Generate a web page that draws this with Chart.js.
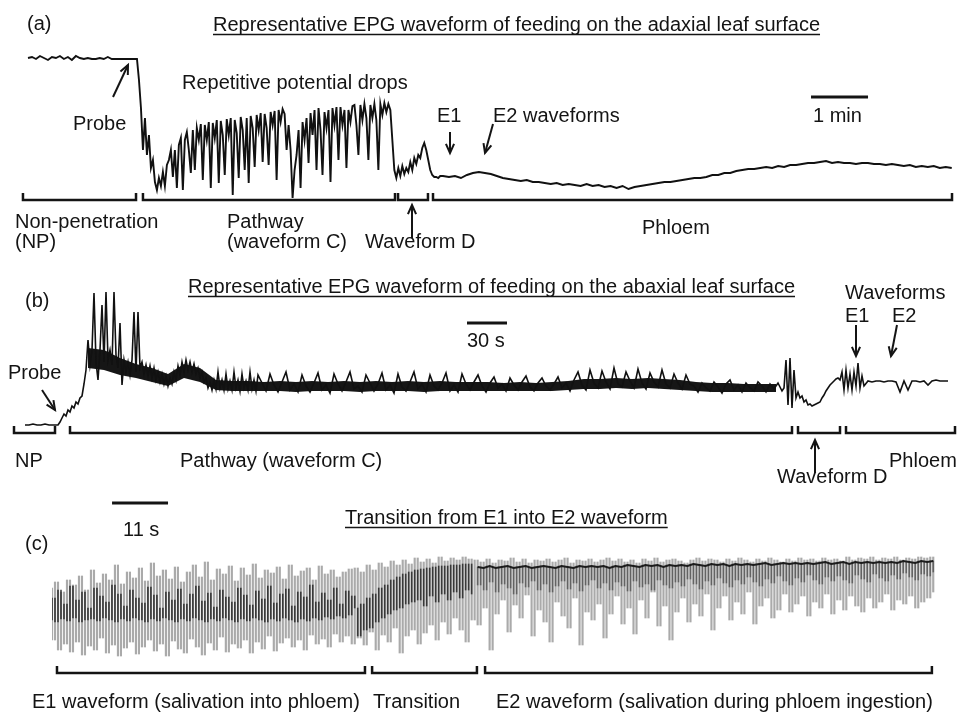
<!DOCTYPE html>
<html>
<head>
<meta charset="utf-8">
<script src="https://cdn.jsdelivr.net/npm/chart.js@4.4.1/dist/chart.umd.min.js"></script>
<style>
  html, body { margin: 0; padding: 0; background: #fff; }
  #wrap { position: relative; width: 959px; height: 713px; }
  canvas { position: absolute; left: 0; top: 0; }
</style>
</head>
<body>
<div id="wrap">
  <canvas id="panelA" width="959" height="713"></canvas>
  <canvas id="panelB" width="959" height="713"></canvas>
  <canvas id="panelC" width="959" height="713"></canvas>
</div>
<script>
// ---- (a) adaxial surface, time in s, signal in relative units ----
const A_NP = [142, 143, 141, 144, 142, 140, 143, 142, 144, 141, 143, 140, 144, 142,
  141, 142, 141, 141, 142, 141, 143, 141, 141, 141, 141, 141, 141, 141];
const A_PATH = [
  141, 120, 92, 50, 82, 45, 65, 32, 40, 18,
  10, 22, 14, 28, 14, 35, 40, 50, 23, 50,
  12, 55, 62, 10, 60, 68, 50, 27, 70, 30,
  72, 60, 76, 20, 75, 60, 78, 12, 77, 62,
  80, 17, 79, 65, 25, 81, 65, 82, 5, 80,
  67, 22, 83, 70, 30, 82, 17, 84, 72, 33,
  85, 70, 87, 38, 86, 72, 35, 88, 75, 89,
  20, 90, 78, 91, 86, 50, 75, 50, 2, 30,
  45, 70, 12, 78, 60, 82, 37, 87, 65, 90,
  30, 92, 70, 25, 88, 72, 90, 18, 92, 75,
  93, 40, 93, 75, 90, 32, 90, 78, 94, 95,
  75, 45, 95, 80, 96, 82, 40, 95, 82, 96,
  80, 30, 96, 85, 97, 88, 96, 90, 60, 30,
  22, 32, 24, 34, 26, 32, 28, 38, 30, 42,
  36, 45, 42, 52, 57, 50, 40, 30, 25, 23,
  23, 22, 24];
const A_PHLOEM = [
  24, 23, 24, 22, 25, 27, 28, 27, 26, 24,
  22, 21, 20, 19, 20, 18, 18, 17, 16, 17,
  15, 16, 15, 14, 16, 14, 15, 13, 14, 12,
  14, 11, 13, 14, 15, 16, 17, 18, 18, 19,
  20, 21, 22, 22, 23, 25, 25, 27, 27, 29,
  30, 31, 31, 32, 33, 32, 34, 33, 35, 35,
  36, 37, 37, 38, 39, 37, 38, 37, 37, 36,
  37, 37, 36, 36, 35, 36, 35, 34, 35, 33,
  34, 33, 34, 32, 33, 32];

// ---- (b) abaxial surface ----
const B_NP = [5, 5, 6, 5, 5, 6, 5, 5, 5];
const B_RISE = [
  5, 8, 12, 16, 14, 20, 18, 24, 22, 28,
  26, 32, 34, 46, 60, 90, 65, 80, 137, 68,
  50, 80, 125, 68, 138, 70, 80, 65, 138, 75,
  62, 107, 45, 70, 58, 68, 55, 70, 118, 58,
  118, 62, 68, 56, 65, 54, 64, 52, 62, 50,
  58, 48, 56, 46, 54, 44, 52, 46, 58, 50,
  64, 55, 68, 58, 70, 60, 68, 58, 66, 56,
  62, 52, 58, 48, 52, 42, 48, 40, 50, 41,
  58, 42, 50, 40, 56, 41, 49, 40, 58, 42,
  50, 39, 56, 42, 49, 40, 58, 41, 50, 39,
  55];
const B_PATH = [
  47, 39, 56, 45, 38, 48, 58, 40, 46, 38,
  55, 44, 38, 47, 57, 40, 45, 37, 56, 46,
  39, 48, 58, 41, 44, 38, 55, 47, 39, 46,
  57, 40, 45, 37, 56, 43, 39, 48, 58, 41,
  46, 38, 55, 44, 40, 47, 57, 39, 45, 38,
  56, 46, 40, 48, 55,
  44, 38, 47, 53, 42, 46, 39, 52, 45, 40,
  48, 54, 43, 39, 47, 52, 44, 40, 46, 53,
  42, 47, 39,
  50, 58, 45, 40, 60, 47, 42, 59, 48, 41,
  62, 46, 43, 58, 49, 42, 61, 47, 41, 57,
  48, 43, 60, 46, 42, 56, 47, 41, 55, 46,
  44, 38, 47, 42, 39, 48, 43, 37, 46, 50,
  40, 45, 38, 47, 42, 39, 48, 44, 38, 46,
  41, 47, 39];
const B_D = [
  42, 70, 25, 72, 22, 60, 32, 38, 32, 34,
  28, 30, 25, 26, 24, 25, 26, 27, 28, 32,
  35, 39, 42, 45, 47, 49, 51, 52, 50, 58,
  40, 60, 42, 56, 40, 58, 44, 67, 42, 54,
  44];
const B_PHLOEM = [49, 48, 49, 49, 48, 49, 49, 48, 38, 49, 40,
  49, 49, 48, 49, 45, 49, 50, 49, 49, 49];
// thick noisy band of the pathway phase (upper / lower edge)
const B_BAND_HI = [
  82, 80, 72, 66, 62, 56, 66, 62, 50, 49, 49, 48, 49, 48, 49,
  48, 49, 48, 49, 48, 49, 48, 49, 48, 48, 48, 47, 48, 47, 48,
  49, 51, 51, 52, 51, 52, 51, 50, 48, 47, 47, 46, 46, 46];
const B_BAND_LO = [
  62, 60, 55, 52, 48, 44, 52, 48, 40, 39, 39, 39, 39, 38, 39,
  39, 39, 38, 39, 39, 39, 38, 39, 39, 39, 39, 39, 39, 39, 39,
  40, 41, 41, 42, 41, 42, 41, 40, 39, 38, 38, 38, 38, 38];

// ---- (c) E1 -> E2, light strokes and dark core, alternating high/low ----
const C_E1_GREY = [
  92, 40, 98, 30, 88, 36, 100, 28, 95, 38, 104, 25, 90, 34, 110, 30, 97, 42, 106, 27,
  100, 35, 115, 24, 96, 32, 108, 38, 102, 26, 112, 33, 99, 40, 117, 29, 104, 36, 110, 24,
  101, 39, 113, 31, 98, 27, 108, 41, 115, 33, 103, 25, 118, 37, 100, 30, 111, 43, 106, 28,
  114, 36, 99, 32, 112, 40, 105, 27, 116, 38, 102, 31, 110, 44, 107, 29, 113, 37, 101, 42,
  115, 33, 104, 40, 109, 30, 112, 45, 100, 36, 114, 41, 106, 33, 110, 46, 103, 38, 108, 44,
  111, 36];
const C_TR_GREY = [
  112, 42, 108, 35, 115, 48, 110, 30, 117, 45, 113, 38, 119, 52, 115, 27, 120, 44, 116, 50,
  122, 36, 118, 47, 121, 55, 117, 40, 123, 58, 119, 46, 122, 62, 120, 50, 123, 38, 121, 60];
const C_E2_GREY = [
  120, 55, 118, 72, 121, 30, 117, 66, 120, 80, 119, 48, 122, 75, 118, 62, 121, 85, 117, 44,
  120, 70, 119, 58, 121, 38, 118, 78, 120, 64, 122, 52, 117, 82, 120, 35, 119, 68, 121, 60,
  118, 76, 120, 42, 122, 66, 119, 84, 121, 56, 118, 72, 120, 46, 117, 80, 121, 62, 119, 88,
  122, 54, 118, 74, 120, 40, 121, 68, 119, 82, 117, 58, 120, 76, 122, 64, 119, 86, 121, 50,
  120, 72, 118, 84, 121, 60, 119, 78, 122, 66, 120, 88, 118, 56, 121, 74, 119, 82, 122, 62,
  120, 70, 118, 86, 121, 68, 119, 76, 122, 84, 120, 64, 121, 78, 119, 72, 122, 86, 120, 66,
  121, 80, 119, 70, 123, 84, 120, 74, 122, 68, 121, 82, 123, 72, 120, 78, 122, 86, 121, 70,
  123, 80, 120, 76, 122, 84, 121, 72, 123, 78, 122, 82, 123, 88];
const C_E1_DARK = [
  60, 82, 58, 90, 61, 76, 59, 94, 62, 80, 58, 88, 60, 72, 61, 92, 59, 84, 62, 78,
  60, 95, 58, 86, 61, 74, 59, 90, 62, 82, 60, 77, 58, 93, 61, 85, 59, 72, 62, 88,
  60, 80, 58, 91, 61, 76, 59, 86, 62, 94, 60, 79, 58, 87, 61, 73, 59, 90, 62, 83,
  60, 78, 58, 92, 61, 85, 59, 75, 62, 89, 60, 81, 58, 94, 61, 77, 59, 86, 62, 91,
  60, 74, 58, 88, 61, 83, 59, 95, 62, 78, 60, 87, 63, 80, 61, 92, 64, 76, 62, 89,
  65, 84];
const C_TR_DARK = [
  72, 44, 76, 50, 82, 52, 86, 58, 92, 62, 95, 66, 100, 70, 103, 72, 106, 76, 108, 78,
  110, 80, 111, 74, 112, 84, 113, 78, 114, 86, 114, 80, 115, 88, 115, 82, 116, 90, 116, 86];
const C_E2_DARK = [
  113, 95, 112, 90, 114, 98, 112, 88, 113, 96, 114, 92, 112, 86, 113, 97, 114, 93, 112, 99,
  113, 90, 114, 96, 113, 88, 112, 94, 114, 99, 113, 91, 112, 97, 114, 89, 113, 95, 114, 100,
  113, 92, 114, 97, 112, 90, 114, 98, 113, 94, 115, 89, 114, 99, 113, 93, 115, 96, 114, 90,
  115, 100, 113, 95, 115, 92, 114, 98, 115, 94, 114, 101, 116, 96, 115, 91, 114, 99, 116, 95,
  115, 102, 116, 97, 114, 93, 116, 100, 115, 96, 116, 103, 115, 98, 116, 94, 117, 101, 115, 97,
  116, 104, 117, 99, 116, 95, 117, 102, 116, 98, 117, 105, 116, 100, 117, 96, 118, 103, 116, 99,
  117, 104, 118, 100, 116, 97, 118, 105, 117, 101, 118, 98, 117, 106, 118, 102, 117, 99, 118, 105,
  117, 101, 119, 107, 118, 103, 117, 100, 119, 106, 118, 104, 119, 108];

const FONT = '20px "Liberation Sans", Arial, Helvetica, sans-serif';
const INK = '#141414';

// samples on a regular time grid starting at t0
function series(t0, dt, vals) {
  return vals.map((v, i) => ({ x: +(t0 + i * dt).toFixed(3), y: v }));
}

// vertical swing from each sample to the next one, drawn as a floating bar
function strokes(t0, dt, vals) {
  return vals.slice(0, -1).map((v, i) => ({
    x: +(t0 + i * dt).toFixed(3),
    y: [Math.min(v, vals[i + 1]), Math.max(v, vals[i + 1])]
  }));
}

function arrow(ctx, x1, y1, x2, y2) {
  const a = Math.atan2(y2 - y1, x2 - x1), L = 10, w = 0.42;
  ctx.beginPath(); ctx.moveTo(x1, y1); ctx.lineTo(x2, y2); ctx.stroke();
  ctx.beginPath();
  ctx.moveTo(x2 - L * Math.cos(a - w), y2 - L * Math.sin(a - w));
  ctx.lineTo(x2, y2);
  ctx.lineTo(x2 - L * Math.cos(a + w), y2 - L * Math.sin(a + w));
  ctx.stroke();
}

// brackets, scale bar, labels and arrows for one panel
function decor(cfg) {
  return {
    id: 'decor',
    afterDraw(chart) {
      const { ctx, scales: { x, y } } = chart;
      ctx.save();
      ctx.strokeStyle = INK;
      ctx.fillStyle = INK;

      ctx.lineWidth = 2.5;
      const by = y.getPixelForValue(cfg.bracketY);
      cfg.brackets.forEach(([a, b]) => {
        const x1 = x.getPixelForValue(a), x2 = x.getPixelForValue(b);
        ctx.beginPath();
        ctx.moveTo(x1, by - 7); ctx.lineTo(x1, by); ctx.lineTo(x2, by); ctx.lineTo(x2, by - 7);
        ctx.stroke();
      });

      ctx.lineWidth = 3;
      const [b1, b2, bv] = cfg.bar;
      ctx.beginPath();
      ctx.moveTo(x.getPixelForValue(b1), y.getPixelForValue(bv));
      ctx.lineTo(x.getPixelForValue(b2), y.getPixelForValue(bv));
      ctx.stroke();

      ctx.font = FONT;
      ctx.textBaseline = 'alphabetic';
      cfg.texts.forEach(([s, tx, ty]) => ctx.fillText(s, tx, ty));

      const [ts, tx, ty] = cfg.title;
      ctx.fillText(ts, tx, ty);
      ctx.lineWidth = 1.5;
      ctx.beginPath();
      ctx.moveTo(tx, ty + 3.5);
      ctx.lineTo(tx + ctx.measureText(ts).width, ty + 3.5);
      ctx.stroke();

      ctx.lineWidth = 2;
      cfg.arrows.forEach(a => arrow(ctx, ...a));
      ctx.restore();
    }
  };
}

function makePanel(id, datasets, xMax, yMax, pad, cfg) {
  return new Chart(document.getElementById(id), {
    type: 'line',
    data: { datasets },
    options: {
      responsive: false,
      animation: false,
      events: [],
      layout: { padding: pad },
      scales: {
        x: { type: 'linear', display: false, offset: false, min: 0, max: xMax },
        y: { display: false, min: 0, max: yMax }
      },
      plugins: { legend: { display: false }, tooltip: { enabled: false } },
      elements: { point: { radius: 0 }, line: { tension: 0 } }
    },
    plugins: [decor(cfg)]
  });
}

// upper edge filled down to the lower edge that follows it
function band(hi, lo, t0, dt) {
  return [
    { data: series(t0, dt, hi), borderWidth: 0, borderColor: 'transparent',
      backgroundColor: '#161616', fill: '+1', clip: false },
    { data: series(t0, dt, lo), borderWidth: 0, borderColor: 'transparent', fill: false, clip: false }
  ];
}

const traceA = [].concat(
  series(0, 4.2, A_NP),
  series(114.7, 2.1, A_PATH),
  series(436.8, 6.3, A_PHLOEM)
);
makePanel('panelA', [
  { data: traceA, borderColor: '#111', borderWidth: 1.9, clip: false }
], 976.8, 150, { left: 28, right: 3, top: 50, bottom: 513 }, {
  bracketY: 0,
  brackets: [[-5.3, 113.7], [121, 386.3], [389.5, 421], [426.3, 972.6]],
  bar: [824.2, 884.2, 103],
  title: ['Representative EPG waveform of feeding on the adaxial leaf surface', 213, 31],
  texts: [
    ['(a)', 27, 30], ['Probe', 73, 130], ['Repetitive potential drops', 182, 89],
    ['E1', 437, 122], ['E2 waveforms', 493, 122], ['1 min', 813, 122],
    ['Non-penetration', 15, 228], ['(NP)', 15, 248], ['Pathway', 227, 228],
    ['(waveform C)', 227, 248], ['Waveform D', 365, 248], ['Phloem', 642, 234]
  ],
  arrows: [[113, 97, 128, 65], [450, 132, 450, 153], [493, 124, 485, 153], [412, 238, 412, 205]]
});

const traceB = [].concat(
  series(0, 3, B_NP),
  series(24.75, 1.5, B_RISE),
  series(177.75, 3, B_PATH),
  series(569.25, 1.5, B_D),
  series(632.25, 3, B_PHLOEM)
);
makePanel('panelB', [
  { data: traceB, borderColor: '#111', borderWidth: 1.6, clip: false },
  ...band(B_BAND_HI, B_BAND_LO, 47.25, 12)
], 697.5, 150, { left: 25, right: 4, top: 280, bottom: 283 }, {
  bracketY: -3,
  brackets: [[-8.25, 22.5], [33.75, 575.25], [579.75, 611.25], [615.75, 697.5]],
  bar: [331.5, 361.5, 107],
  title: ['Representative EPG waveform of feeding on the abaxial leaf surface', 188, 293],
  texts: [
    ['(b)', 25, 307], ['Probe', 8, 379], ['30 s', 467, 347],
    ['Waveforms', 845, 299], ['E1', 845, 322], ['E2', 892, 322],
    ['NP', 15, 467], ['Pathway (waveform C)', 180, 467],
    ['Waveform D', 777, 483], ['Phloem', 889, 467]
  ],
  arrows: [[42, 390, 55, 410], [856, 325, 856, 356], [897, 325, 891, 356], [815, 473, 815, 440]]
});

const DT_C = 0.589;
const greyC = strokes(0, DT_C, [].concat(C_E1_GREY, C_TR_GREY, C_E2_GREY));
const darkE1 = strokes(0, DT_C, [].concat(C_E1_DARK, C_TR_DARK));
const darkE2 = strokes((C_E1_DARK.length + C_TR_DARK.length) * DT_C, DT_C, C_E2_DARK);
const e2Top = series((C_E1_DARK.length + C_TR_DARK.length) * DT_C, DT_C * 2,
  C_E2_DARK.filter((v, i) => i % 2 === 0));
makePanel('panelC', [
  { data: e2Top, borderColor: '#1c1c1c', borderWidth: 2, clip: false, order: 0 },
  { type: 'bar', data: darkE1, backgroundColor: 'rgba(30,30,30,0.8)', barThickness: 1,
    grouped: false, borderWidth: 0, order: 1 },
  { type: 'bar', data: darkE2, backgroundColor: 'rgba(70,70,70,0.7)', barThickness: 1,
    grouped: false, borderWidth: 0, order: 2 },
  { type: 'bar', data: greyC, backgroundColor: 'rgba(155,155,155,0.85)', barThickness: 1.5,
    grouped: false, borderWidth: 0, order: 3 }
], 174.1, 130, { left: 52, right: 21, top: 550, bottom: 33 }, {
  bracketY: 7,
  brackets: [[0.98, 61.5], [62.9, 83.5], [85.1, 172.9]],
  bar: [11.8, 22.8, 177],
  title: ['Transition from E1 into E2 waveform', 345, 524],
  texts: [
    ['11 s', 123, 536], ['(c)', 25, 550],
    ['E1 waveform (salivation into phloem)', 32, 708],
    ['Transition', 373, 708],
    ['E2 waveform (salivation during phloem ingestion)', 496, 708]
  ],
  arrows: []
});
</script>
</body>
</html>
